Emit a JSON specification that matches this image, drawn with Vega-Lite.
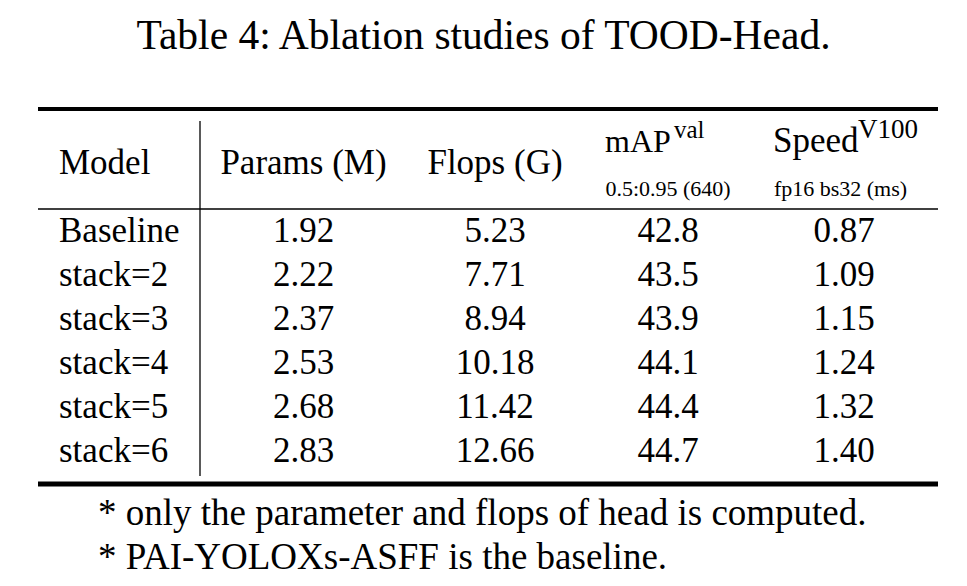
{
  "$schema": "https://vega.github.io/schema/vega-lite/v6.json",
  "width": 900,
  "height": 440,
  "autosize": {"type": "none"},
  "padding": {"left": 38, "top": 121, "right": 29, "bottom": 25},
  "background": "white",
  "config": {
    "view": {"stroke": null},
    "axis": {"disable": true},
    "text": {"font": "Liberation Serif", "color": "black", "fontWeight": "normal"}
  },
  "data": {
    "values": [
      {"Model": "Baseline", "Params": 1.92, "Flops": 5.23, "mAP": 42.8, "Speed": 0.87},
      {"Model": "stack=2", "Params": 2.22, "Flops": 7.71, "mAP": 43.5, "Speed": 1.09},
      {"Model": "stack=3", "Params": 2.37, "Flops": 8.94, "mAP": 43.9, "Speed": 1.15},
      {"Model": "stack=4", "Params": 2.53, "Flops": 10.18, "mAP": 44.1, "Speed": 1.24},
      {"Model": "stack=5", "Params": 2.68, "Flops": 11.42, "mAP": 44.4, "Speed": 1.32},
      {"Model": "stack=6", "Params": 2.83, "Flops": 12.66, "mAP": 44.7, "Speed": 1.40}
    ]
  },
  "layer": [
    {
      "data": {"values": [{}]},
      "mark": {"type": "rule", "color": "black", "strokeWidth": 4, "yOffset": -12},
      "encoding": {
        "y": {
          "datum": "head1", "type": "nominal", "bandPosition": 0,
          "scale": {"type": "band", "domain": ["head1", "head2", "Baseline", "stack=2", "stack=3", "stack=4", "stack=5", "stack=6", "note1", "note2"], "paddingInner": 0, "paddingOuter": 0}
        }
      }
    },
    {
      "data": {"values": [{}]},
      "mark": {"type": "rule", "color": "black", "strokeWidth": 1.3},
      "encoding": {"y": {"datum": "Baseline", "type": "nominal", "bandPosition": 0}}
    },
    {
      "data": {"values": [{}]},
      "mark": {"type": "rule", "color": "black", "strokeWidth": 5, "yOffset": 11},
      "encoding": {"y": {"datum": "note1", "type": "nominal", "bandPosition": 0}}
    },
    {
      "data": {"values": [{}]},
      "mark": {"type": "rule", "color": "black", "strokeWidth": 1.3, "y2Offset": 3},
      "encoding": {
        "x": {
          "datum": "Model", "type": "nominal", "bandPosition": 0.9,
          "scale": {"type": "band", "domain": ["Model", "Params", "Flops", "mAP", "Speed"], "paddingInner": 0, "paddingOuter": 0}
        },
        "y": {"datum": "head1", "type": "nominal", "bandPosition": 0},
        "y2": {"datum": "stack=6", "bandPosition": 1}
      }
    },
    {
      "data": {"values": [{"label": "Table 4: Ablation studies of TOOD-Head."}]},
      "mark": {"type": "text", "font": "Liberation Serif", "align": "center", "baseline": "alphabetic", "fontSize": 41.5, "dx": -4.5, "dy": -94},
      "encoding": {
        "x": {"datum": "Flops", "type": "nominal"},
        "y": {"datum": "head1", "type": "nominal"},
        "text": {"field": "label"}
      }
    },
    {
      "mark": {"type": "text", "font": "Liberation Serif", "align": "left", "baseline": "alphabetic", "fontSize": 35, "dx": 21, "dy": 11},
      "encoding": {
        "x": {"datum": "Model", "type": "nominal", "bandPosition": 0},
        "y": {"field": "Model", "type": "nominal"},
        "text": {"field": "Model"}
      }
    },
    {
      "mark": {"type": "text", "font": "Liberation Serif", "align": "center", "baseline": "alphabetic", "fontSize": 35, "dx": -4.5, "dy": 11},
      "encoding": {
        "x": {"datum": "Params", "type": "nominal"},
        "y": {"field": "Model", "type": "nominal"},
        "text": {"field": "Params", "type": "quantitative", "format": ".2f"}
      }
    },
    {
      "mark": {"type": "text", "font": "Liberation Serif", "align": "center", "baseline": "alphabetic", "fontSize": 35, "dx": 7, "dy": 11},
      "encoding": {
        "x": {"datum": "Flops", "type": "nominal"},
        "y": {"field": "Model", "type": "nominal"},
        "text": {"field": "Flops", "type": "quantitative", "format": ".2f"}
      }
    },
    {
      "mark": {"type": "text", "font": "Liberation Serif", "align": "center", "baseline": "alphabetic", "fontSize": 35, "dx": 0, "dy": 11},
      "encoding": {
        "x": {"datum": "mAP", "type": "nominal"},
        "y": {"field": "Model", "type": "nominal"},
        "text": {"field": "mAP", "type": "quantitative", "format": ".1f"}
      }
    },
    {
      "mark": {"type": "text", "font": "Liberation Serif", "align": "center", "baseline": "alphabetic", "fontSize": 35, "dx": -4, "dy": 11},
      "encoding": {
        "x": {"datum": "Speed", "type": "nominal"},
        "y": {"field": "Model", "type": "nominal"},
        "text": {"field": "Speed", "type": "quantitative", "format": ".2f"}
      }
    },
    {
      "data": {"values": [{"label": "Model"}]},
      "mark": {"type": "text", "font": "Liberation Serif", "align": "left", "baseline": "alphabetic", "fontSize": 35, "dx": 21, "dy": -13},
      "encoding": {
        "x": {"datum": "Model", "type": "nominal", "bandPosition": 0},
        "y": {"datum": "head2", "type": "nominal"},
        "text": {"field": "label"}
      }
    },
    {
      "data": {"values": [{"label": "Params (M)"}]},
      "mark": {"type": "text", "font": "Liberation Serif", "align": "center", "baseline": "alphabetic", "fontSize": 35, "dx": -4.5, "dy": -13},
      "encoding": {
        "x": {"datum": "Params", "type": "nominal"},
        "y": {"datum": "head2", "type": "nominal"},
        "text": {"field": "label"}
      }
    },
    {
      "data": {"values": [{"label": "Flops (G)"}]},
      "mark": {"type": "text", "font": "Liberation Serif", "align": "center", "baseline": "alphabetic", "fontSize": 35, "dx": 7, "dy": -13},
      "encoding": {
        "x": {"datum": "Flops", "type": "nominal"},
        "y": {"datum": "head2", "type": "nominal"},
        "text": {"field": "label"}
      }
    },
    {
      "data": {"values": [{"label": "mAP"}]},
      "mark": {"type": "text", "font": "Liberation Serif", "align": "left", "baseline": "alphabetic", "fontSize": 32, "dx": 27, "dy": 9},
      "encoding": {
        "x": {"datum": "mAP", "type": "nominal", "bandPosition": 0},
        "y": {"datum": "head1", "type": "nominal"},
        "text": {"field": "label"}
      }
    },
    {
      "data": {"values": [{"label": "val"}]},
      "mark": {"type": "text", "font": "Liberation Serif", "align": "left", "baseline": "alphabetic", "fontSize": 25, "dx": 96, "dy": -5},
      "encoding": {
        "x": {"datum": "mAP", "type": "nominal", "bandPosition": 0},
        "y": {"datum": "head1", "type": "nominal"},
        "text": {"field": "label"}
      }
    },
    {
      "data": {"values": [{"label": "0.5:0.95 (640)"}]},
      "mark": {"type": "text", "font": "Liberation Serif", "align": "center", "baseline": "alphabetic", "fontSize": 22, "dx": 0, "dy": 9},
      "encoding": {
        "x": {"datum": "mAP", "type": "nominal"},
        "y": {"datum": "head2", "type": "nominal"},
        "text": {"field": "label"}
      }
    },
    {
      "data": {"values": [{"label": "Speed"}]},
      "mark": {"type": "text", "font": "Liberation Serif", "align": "left", "baseline": "alphabetic", "fontSize": 35, "dx": 15, "dy": 9},
      "encoding": {
        "x": {"datum": "Speed", "type": "nominal", "bandPosition": 0},
        "y": {"datum": "head1", "type": "nominal"},
        "text": {"field": "label"}
      }
    },
    {
      "data": {"values": [{"label": "V100"}]},
      "mark": {"type": "text", "font": "Liberation Serif", "align": "left", "baseline": "alphabetic", "fontSize": 27, "dx": 100, "dy": -5},
      "encoding": {
        "x": {"datum": "Speed", "type": "nominal", "bandPosition": 0},
        "y": {"datum": "head1", "type": "nominal"},
        "text": {"field": "label"}
      }
    },
    {
      "data": {"values": [{"label": "fp16 bs32 (ms)"}]},
      "mark": {"type": "text", "font": "Liberation Serif", "align": "center", "baseline": "alphabetic", "fontSize": 22, "dx": -7.5, "dy": 9},
      "encoding": {
        "x": {"datum": "Speed", "type": "nominal"},
        "y": {"datum": "head2", "type": "nominal"},
        "text": {"field": "label"}
      }
    },
    {
      "data": {"values": [
        {"note": "note1", "text": "* only the parameter and flops of head is computed."},
        {"note": "note2", "text": "* PAI-YOLOXs-ASFF is the baseline."}
      ]},
      "mark": {"type": "text", "font": "Liberation Serif", "align": "left", "baseline": "alphabetic", "fontSize": 37, "dx": 60, "dy": 30},
      "encoding": {
        "x": {"datum": "Model", "type": "nominal", "bandPosition": 0},
        "y": {"field": "note", "type": "nominal"},
        "text": {"field": "text"}
      }
    }
  ]
}
